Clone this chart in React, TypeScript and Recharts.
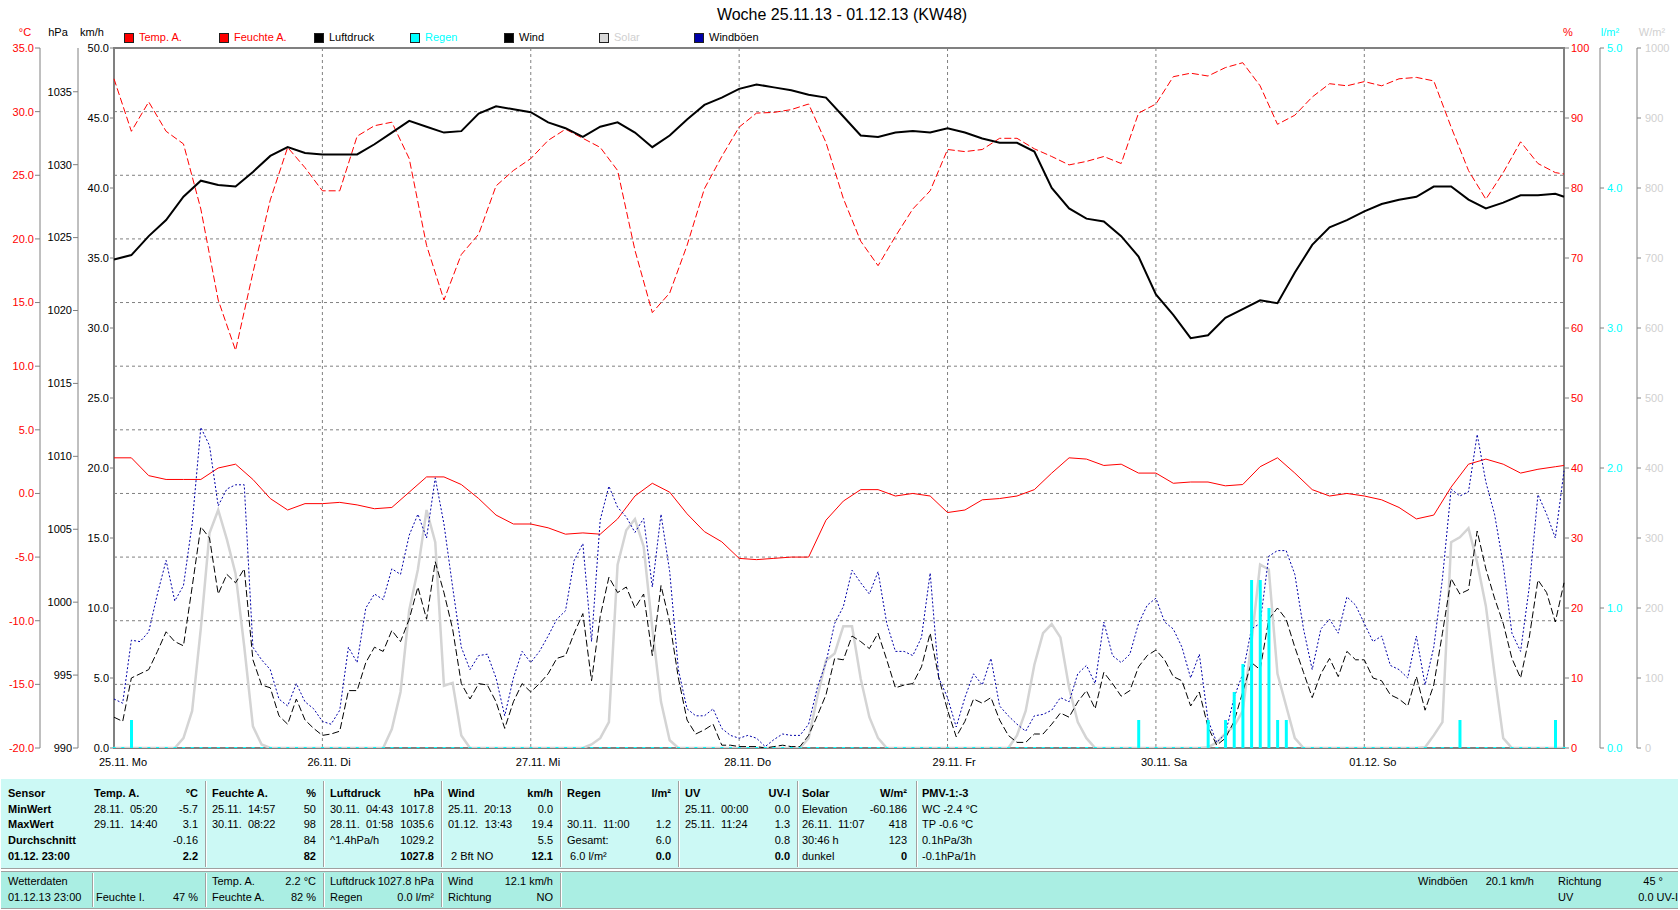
import React from 'react';
import { ComposedChart, Line, Bar, XAxis, YAxis, CartesianGrid, ReferenceArea } from 'recharts';

// ---- time axis: 25.11.13 00:00 … 01.12.13 23:00, one row per hour ----
const DAY_LABELS = ['25.11. Mo', '26.11. Di', '27.11. Mi', '28.11. Do', '29.11. Fr', '30.11. Sa', '01.12. So'];
const DAY_TICKS = [0, 24, 48, 72, 96, 120, 144];

// ---- hourly readings, one inner array per day (24 values) ----
const WIND_KMH = [
  [2.2, 1.9, 5.0, 5.3, 5.6, 6.9, 8.3, 7.6, 7.3, 11.5, 15.8, 15.0, 11.0, 12.4, 11.8, 12.8, 6.3, 4.5, 4.3, 2.3, 1.7, 3.5, 2.0, 1.4],
  [0.9, 1.0, 1.2, 4.1, 4.1, 6.1, 7.2, 6.9, 8.4, 7.6, 9.2, 11.5, 9.2, 13.3, 11.1, 8.5, 4.6, 3.5, 4.6, 4.5, 3.3, 1.4, 3.3, 4.6],
  [4.0, 4.6, 5.3, 6.4, 6.6, 8.2, 9.6, 4.8, 9.4, 12.2, 11.1, 11.5, 10.0, 11.0, 6.6, 11.6, 9.0, 5.0, 2.0, 1.0, 1.3, 1.7, 0.2, 0.2],
  [0.1, 0.1, 0.1, 0.0, 0.1, 0.2, 0.1, 0.1, 0.9, 2.3, 3.8, 6.4, 6.3, 8.0, 7.6, 7.1, 8.2, 6.3, 4.3, 4.5, 4.6, 5.8, 8.2, 5.0],
  [2.7, 0.8, 1.9, 3.5, 3.2, 3.6, 2.0, 0.9, 0.4, 0.4, 1.0, 1.0, 1.7, 2.5, 2.2, 3.3, 4.1, 2.8, 5.4, 4.6, 3.7, 4.1, 5.8, 6.6],
  [7.0, 6.3, 5.1, 4.8, 3.0, 4.0, 1.5, 0.2, 0.7, 1.9, 4.0, 6.1, 5.6, 9.2, 10.0, 9.2, 7.2, 5.4, 3.6, 5.3, 6.4, 5.1, 6.9, 6.3],
  [6.3, 5.0, 4.8, 3.8, 3.5, 3.0, 5.1, 2.7, 4.5, 8.2, 12.1, 11.0, 11.3, 15.5, 12.8, 10.7, 8.9, 6.4, 5.0, 7.9, 12.0, 11.1, 9.0, 11.8],
];

const GUST_KMH = [
  [3.5, 3.2, 7.7, 7.6, 8.3, 11.0, 13.4, 10.5, 11.6, 16.0, 22.9, 21.6, 17.3, 18.5, 18.8, 18.8, 7.2, 6.3, 5.6, 3.5, 3.0, 4.6, 3.3, 2.8],
  [1.9, 1.7, 2.7, 7.2, 6.1, 10.0, 11.0, 10.6, 12.8, 12.4, 15.2, 16.7, 15.0, 19.3, 16.0, 11.5, 7.2, 5.6, 6.6, 6.7, 5.0, 2.3, 5.0, 6.9],
  [6.1, 6.9, 8.0, 9.2, 9.8, 13.4, 14.6, 7.6, 16.3, 18.7, 17.2, 16.5, 15.4, 16.4, 11.5, 16.7, 12.6, 5.6, 2.8, 2.3, 2.3, 2.8, 1.4, 0.9],
  [0.7, 0.9, 0.7, 0.1, 0.6, 1.0, 0.9, 0.9, 1.7, 4.3, 6.1, 8.9, 10.1, 12.7, 11.8, 11.0, 12.6, 8.9, 6.9, 6.9, 6.6, 7.9, 12.5, 5.0],
  [3.6, 1.5, 3.6, 5.3, 4.5, 6.4, 3.0, 2.3, 1.7, 1.2, 2.3, 2.4, 2.7, 3.6, 3.3, 5.3, 5.9, 4.6, 9.0, 6.6, 6.1, 6.7, 8.9, 10.2],
  [10.7, 9.0, 8.5, 7.2, 5.0, 6.7, 2.0, 0.4, 1.0, 3.6, 5.3, 8.5, 8.9, 13.7, 14.1, 14.1, 12.4, 8.5, 5.6, 8.5, 9.2, 8.2, 10.8, 10.2],
  [8.9, 7.6, 8.0, 5.9, 5.6, 5.0, 8.0, 4.5, 7.2, 12.1, 18.5, 18.0, 18.3, 22.4, 19.0, 16.7, 13.1, 8.2, 6.9, 11.5, 18.1, 16.7, 15.0, 19.8],
];

const SOLAR_WM2 = [
  [0, 0, 0, 0, 0, 0, 0, 0, 14, 53, 171, 307, 340, 298, 249, 145, 31, 5, 0, 0, 0, 0, 0, 0],
  [0, 0, 0, 0, 0, 0, 0, 0, 27, 80, 197, 255, 340, 294, 89, 93, 18, 0, 0, 0, 0, 0, 0, 0],
  [0, 0, 0, 0, 0, 0, 0, 5, 14, 37, 262, 311, 327, 288, 171, 66, 11, 0, 0, 0, 0, 0, 0, 0],
  [0, 0, 0, 0, 0, 0, 0, 0, 14, 73, 125, 135, 174, 174, 99, 44, 14, 0, 0, 0, 0, 0, 0, 0],
  [0, 0, 0, 0, 0, 0, 0, 0, 18, 53, 119, 164, 177, 158, 86, 37, 14, 0, 0, 0, 0, 0, 0, 0],
  [0, 0, 0, 0, 0, 0, 1, 8, 21, 31, 53, 151, 262, 255, 106, 60, 14, 0, 0, 0, 0, 0, 0, 0],
  [0, 0, 0, 0, 0, 0, 0, 1, 18, 37, 294, 301, 314, 265, 203, 106, 14, 0, 0, 0, 0, 0, 0, 0],
];

const RAIN_LM2 = [
  [0, 0, 0.2, 0, 0, 0, 0, 0, 0, 0, 0, 0, 0, 0, 0, 0, 0, 0, 0, 0, 0, 0, 0, 0],
  [0, 0, 0, 0, 0, 0, 0, 0, 0, 0, 0, 0, 0, 0, 0, 0, 0, 0, 0, 0, 0, 0, 0, 0],
  [0, 0, 0, 0, 0, 0, 0, 0, 0, 0, 0, 0, 0, 0, 0, 0, 0, 0, 0, 0, 0, 0, 0, 0],
  [0, 0, 0, 0, 0, 0, 0, 0, 0, 0, 0, 0, 0, 0, 0, 0, 0, 0, 0, 0, 0, 0, 0, 0],
  [0, 0, 0, 0, 0, 0, 0, 0, 0, 0, 0, 0, 0, 0, 0, 0, 0, 0, 0, 0, 0, 0, 0.2, 0],
  [0, 0, 0, 0, 0, 0, 0.2, 0, 0.2, 0.4, 0.6, 1.2, 1.2, 1.0, 0.2, 0.2, 0, 0, 0, 0, 0, 0, 0, 0],
  [0, 0, 0, 0, 0, 0, 0, 0, 0, 0, 0, 0.2, 0, 0, 0, 0, 0, 0, 0, 0, 0, 0, 0.2, 0],
];

// ---- two-hourly readings (00:00, 02:00 … 22:00), one inner array per day ----
const TEMP_C = [
  [2.8, 2.8, 1.4, 1.1, 1.1, 1.1, 2.0, 2.3, 1.1, -0.4, -1.3, -0.8],
  [-0.8, -0.7, -0.9, -1.2, -1.1, 0.1, 1.3, 1.3, 0.7, -0.4, -1.7, -2.4],
  [-2.4, -2.7, -3.2, -3.1, -3.2, -2.0, -0.2, 0.8, 0.1, -1.6, -3.0, -3.8],
  [-5.1, -5.2, -5.1, -5.0, -5.0, -2.1, -0.6, 0.3, 0.3, -0.2, 0.0, -0.2],
  [-1.5, -1.3, -0.5, -0.4, -0.2, 0.3, 1.6, 2.8, 2.7, 2.2, 2.3, 1.6],
  [1.6, 0.8, 0.9, 0.9, 0.6, 0.7, 2.1, 2.8, 1.6, 0.3, -0.2, 0.0],
  [-0.2, -0.5, -1.1, -2.0, -1.7, 0.5, 2.3, 2.7, 2.3, 1.6, 1.9, 2.1],
];

const HUMIDITY_PCT = [
  [95.6, 88.1, 92.3, 88.1, 86.3, 77.0, 64.0, 56.8, 67.9, 78.3, 85.8, 82.9],
  [79.6, 79.6, 87.4, 88.9, 89.4, 84.2, 71.8, 64.0, 70.5, 73.4, 80.3, 82.5],
  [84.2, 86.8, 88.4, 87.1, 85.8, 82.5, 71.1, 62.2, 65.0, 71.8, 79.9, 84.5],
  [88.7, 90.7, 90.8, 91.2, 92.0, 86.5, 78.5, 72.4, 68.9, 73.1, 77.0, 79.6],
  [85.5, 85.2, 85.5, 87.1, 87.1, 85.6, 84.5, 83.3, 83.8, 84.5, 83.5, 90.7],
  [92.0, 95.9, 96.4, 96.0, 97.2, 97.9, 94.6, 89.1, 90.4, 93.0, 94.9, 94.6],
  [95.2, 94.6, 95.6, 95.8, 95.3, 88.7, 82.5, 78.4, 82.2, 86.6, 83.5, 82.2],
];

const PRESSURE_HPA = [
  [1023.5, 1023.8, 1025.1, 1026.2, 1027.8, 1028.9, 1028.6, 1028.5, 1029.5, 1030.6, 1031.2, 1030.8],
  [1030.7, 1030.7, 1030.7, 1031.4, 1032.2, 1033.0, 1032.6, 1032.2, 1032.3, 1033.5, 1034.0, 1033.8],
  [1033.6, 1032.9, 1032.5, 1031.9, 1032.6, 1032.9, 1032.2, 1031.2, 1032.0, 1033.1, 1034.1, 1034.6],
  [1035.2, 1035.5, 1035.3, 1035.1, 1034.8, 1034.6, 1033.3, 1032.0, 1031.9, 1032.2, 1032.3, 1032.2],
  [1032.5, 1032.2, 1031.8, 1031.5, 1031.5, 1030.9, 1028.4, 1027.0, 1026.3, 1026.1, 1025.1, 1023.7],
  [1021.1, 1019.7, 1018.1, 1018.3, 1019.5, 1020.1, 1020.7, 1020.5, 1022.6, 1024.5, 1025.7, 1026.2],
  [1026.8, 1027.3, 1027.6, 1027.8, 1028.5, 1028.5, 1027.6, 1027.0, 1027.4, 1027.9, 1027.9, 1028.0],
];

// latest reading, 01.12. 23:00
const CURRENT_TEMP = 2.2;
const CURRENT_HUMIDITY = 82;
const CURRENT_PRESSURE = 1027.8;

// ---- axis ticks ----
const TEMP_TICKS = [-20, -15, -10, -5, 0, 5, 10, 15, 20, 25, 30, 35];
const HPA_TICKS = [990, 995, 1000, 1005, 1010, 1015, 1020, 1025, 1030, 1035];
const KMH_TICKS = [0, 5, 10, 15, 20, 25, 30, 35, 40, 45, 50];
const HUM_TICKS = [0, 10, 20, 30, 40, 50, 60, 70, 80, 90, 100];
const RAIN_TICKS = [0, 1, 2, 3, 4, 5];
const SOLAR_TICKS = [0, 100, 200, 300, 400, 500, 600, 700, 800, 900, 1000];

const LAST_HOUR = 167;

// one row per hour; two-hourly series only on even hours (plus the final reading)
const ROWS = Array.from({ length: LAST_HOUR + 1 }, (_, h) => {
  const d = Math.floor(h / 24);
  const hr = h % 24;
  const even = hr % 2 === 0;
  let temp: number | null = even ? TEMP_C[d][hr / 2] : null;
  let hum: number | null = even ? HUMIDITY_PCT[d][hr / 2] : null;
  let pres: number | null = even ? PRESSURE_HPA[d][hr / 2] : null;
  if (h === LAST_HOUR) {
    temp = CURRENT_TEMP;
    hum = CURRENT_HUMIDITY;
    pres = CURRENT_PRESSURE;
  }
  return {
    h,
    wind: WIND_KMH[d][hr],
    gust: GUST_KMH[d][hr],
    solar: SOLAR_WM2[d][hr],
    rain: RAIN_LM2[d][hr],
    temp,
    hum,
    pres,
  };
});

// axis ids: stacked outward from the plot in this order on each side
const AX_KMH = 'l1_kmh';
const AX_HPA = 'l2_hpa';
const AX_TEMP = 'l3_temp';
const AX_HUM = 'r1_hum';
const AX_RAIN = 'r2_rain';
const AX_SOLAR = 'r3_solar';

const GRID = '#808080';
const RED = '#FF0000';
const CYAN = '#00FFFF';
const SOLAR_GRAY = '#D4D4D4';
const GUST_BLUE = '#0000A8';

function DayTick(props: any) {
  const { x, y, payload } = props;
  const i = DAY_TICKS.indexOf(payload.value);
  return (
    <text x={x - 15} y={y + 18} fontSize={11} fill="#000">
      {DAY_LABELS[i]}
    </text>
  );
}

const LEGEND = [
  { label: 'Temp. A.', box: RED, text: RED, x: 124 },
  { label: 'Feuchte A.', box: RED, text: RED, x: 219 },
  { label: 'Luftdruck', box: '#000', text: '#000', x: 314 },
  { label: 'Regen', box: CYAN, text: CYAN, x: 410 },
  { label: 'Wind', box: '#000', text: '#000', x: 504 },
  { label: 'Solar', box: '#D8D8D8', text: '#D0D0D0', x: 599 },
  { label: 'Windböen', box: GUST_BLUE, text: '#000', x: 694 },
];

const UNITS = [
  { label: '°C', color: RED, cx: 25 },
  { label: 'hPa', color: '#000', cx: 58 },
  { label: 'km/h', color: '#000', cx: 92 },
  { label: '%', color: RED, cx: 1568 },
  { label: 'l/m²', color: CYAN, cx: 1610 },
  { label: 'W/m²', color: '#D0D0D0', cx: 1652 },
];

// ---- summary table ----
const ROW_LABELS = ['Sensor', 'MinWert', 'MaxWert', 'Durchschnitt', '01.12. 23:00'];
const SUMMARY = [
  { name: 'Temp. A.', unit: '°C', rows: [['28.11.  05:20', '-5.7'], ['29.11.  14:40', '3.1'], ['', '-0.16'], ['', '2.2']] },
  { name: 'Feuchte A.', unit: '%', rows: [['25.11.  14:57', '50'], ['30.11.  08:22', '98'], ['', '84'], ['', '82']] },
  { name: 'Luftdruck', unit: 'hPa', rows: [['30.11.  04:43', '1017.8'], ['28.11.  01:58', '1035.6'], ['^1.4hPa/h', '1029.2'], ['', '1027.8']] },
  { name: 'Wind', unit: 'km/h', rows: [['25.11.  20:13', '0.0'], ['01.12.  13:43', '19.4'], ['', '5.5'], [' 2 Bft NO', '12.1']] },
  { name: 'Regen', unit: 'l/m²', rows: [['', ''], ['30.11.  11:00', '1.2'], ['Gesamt:', '6.0'], [' 6.0 l/m²', '0.0']] },
  { name: 'UV', unit: 'UV-I', rows: [['25.11.  00:00', '0.0'], ['25.11.  11:24', '1.3'], ['', '0.8'], ['', '0.0']] },
  { name: 'Solar', unit: 'W/m²', rows: [['Elevation', '-60.186'], ['26.11.  11:07', '418'], ['30:46 h', '123'], ['dunkel', '0']] },
];
const PMV = { name: 'PMV-1:-3', rows: ['WC -2.4 °C', 'TP -0.6 °C', '0.1hPa/3h', '-0.1hPa/1h'] };
const COL_LEFT = [94, 212, 330, 448, 567, 685, 802];
const COL_RIGHT = [198, 316, 434, 553, 671, 790, 907];
const PMV_LEFT = 922;
const ROW_Y = [793, 809, 824, 840, 856];
const TOP_DIVIDERS = [205, 323, 441, 560, 678, 797, 916];
const BOTTOM_DIVIDERS = [92, 205, 323, 441, 560];
const STATUS_Y = [881, 897];

const W = 1680;

function T(props: { x: number; y: number; text: string; right?: boolean; bold?: boolean; color?: string }) {
  const { x, y, text, right, bold, color } = props;
  const style: React.CSSProperties = {
    position: 'absolute',
    top: y - 7,
    fontSize: 11,
    lineHeight: '14px',
    whiteSpace: 'pre',
    fontWeight: bold ? 'bold' : 'normal',
    color: color || '#000',
  };
  if (right) style.right = W - x;
  else style.left = x;
  return <span style={style}>{text}</span>;
}

function Divider({ x, top, height }: { x: number; top: number; height: number }) {
  return (
    <>
      <div style={{ position: 'absolute', left: x, top, width: 1, height, background: '#A0A0A0' }} />
      <div style={{ position: 'absolute', left: x + 1, top, width: 1, height, background: '#FFFFFF' }} />
    </>
  );
}

export default function App() {
  return (
    <div
      style={{
        position: 'absolute',
        left: 0,
        top: 0,
        width: 1680,
        height: 910,
        background: '#fff',
        overflow: 'hidden',
        fontFamily: '"Liberation Sans", Arial, sans-serif',
      }}
    >
      <div style={{ position: 'absolute', left: 0, top: 0 }}>
        <ComposedChart width={1680} height={778} data={ROWS} margin={{ top: 48, right: 0, bottom: 0, left: 0 }}>
          <XAxis
            dataKey="h"
            type="number"
            domain={[0, LAST_HOUR]}
            ticks={DAY_TICKS}
            interval={0}
            height={30}
            axisLine={false}
            tickLine={false}
            tickSize={0}
            tickMargin={0}
            tick={<DayTick />}
          />
          <YAxis
            yAxisId={AX_KMH}
            orientation="left"
            width={36}
            domain={[0, 50]}
            ticks={KMH_TICKS}
            interval={0}
            allowDataOverflow
            axisLine={false}
            tickLine={{ stroke: GRID }}
            tickSize={4}
            tickMargin={1}
            tick={{ fill: '#000', fontSize: 11 }}
            tickFormatter={(v: number) => v.toFixed(1)}
          />
          <YAxis
            yAxisId={AX_HPA}
            orientation="left"
            width={38}
            domain={[990, 1038]}
            ticks={HPA_TICKS}
            interval={0}
            allowDataOverflow
            axisLine={{ stroke: GRID }}
            tickLine={{ stroke: GRID }}
            tickSize={5}
            tickMargin={1}
            tick={{ fill: '#000', fontSize: 11 }}
          />
          <YAxis
            yAxisId={AX_TEMP}
            orientation="left"
            width={40}
            domain={[-20, 35]}
            ticks={TEMP_TICKS}
            interval={0}
            allowDataOverflow
            axisLine={{ stroke: GRID }}
            tickLine={{ stroke: GRID }}
            tickSize={5}
            tickMargin={1}
            tick={{ fill: RED, fontSize: 11 }}
            tickFormatter={(v: number) => v.toFixed(1)}
          />
          <YAxis
            yAxisId={AX_HUM}
            orientation="right"
            width={36}
            domain={[0, 100]}
            ticks={HUM_TICKS}
            interval={0}
            allowDataOverflow
            axisLine={false}
            tickLine={{ stroke: GRID }}
            tickSize={5}
            tickMargin={2}
            tick={{ fill: RED, fontSize: 11 }}
          />
          <YAxis
            yAxisId={AX_RAIN}
            orientation="right"
            width={37}
            domain={[0, 5]}
            ticks={RAIN_TICKS}
            interval={0}
            allowDataOverflow
            axisLine={{ stroke: GRID }}
            tickLine={{ stroke: GRID }}
            tickSize={4}
            tickMargin={3}
            tick={{ fill: CYAN, fontSize: 11 }}
            tickFormatter={(v: number) => v.toFixed(1)}
          />
          <YAxis
            yAxisId={AX_SOLAR}
            orientation="right"
            width={43}
            domain={[0, 1000]}
            ticks={SOLAR_TICKS}
            interval={0}
            allowDataOverflow
            axisLine={{ stroke: GRID }}
            tickLine={{ stroke: GRID }}
            tickSize={4}
            tickMargin={4}
            tick={{ fill: '#D0D0D0', fontSize: 11 }}
          />

          <CartesianGrid yAxisId={AX_TEMP} stroke={GRID} strokeDasharray="3 3" />

          <ReferenceArea
            yAxisId={AX_KMH}
            x1={0}
            x2={LAST_HOUR}
            y1={0}
            y2={50}
            fill="none"
            stroke={GRID}
            strokeWidth={2}
            ifOverflow="visible"
          />

          <Line
            yAxisId={AX_SOLAR}
            dataKey="solar"
            stroke={SOLAR_GRAY}
            strokeWidth={2.5}
            dot={false}
            activeDot={false}
            isAnimationActive={false}
          />
          <Line
            yAxisId={AX_TEMP}
            dataKey="temp"
            stroke={RED}
            strokeWidth={1}
            dot={false}
            activeDot={false}
            connectNulls
            isAnimationActive={false}
          />
          <Line
            yAxisId={AX_HUM}
            dataKey="hum"
            stroke={RED}
            strokeWidth={1}
            strokeDasharray="7 3"
            dot={false}
            activeDot={false}
            connectNulls
            isAnimationActive={false}
          />
          <Line
            yAxisId={AX_HPA}
            dataKey="pres"
            stroke="#000"
            strokeWidth={2}
            dot={false}
            activeDot={false}
            connectNulls
            isAnimationActive={false}
          />
          <Line
            yAxisId={AX_KMH}
            dataKey="wind"
            stroke="#000"
            strokeWidth={1}
            strokeDasharray="7 3"
            dot={false}
            activeDot={false}
            isAnimationActive={false}
          />
          <Line
            yAxisId={AX_KMH}
            dataKey="gust"
            stroke={GUST_BLUE}
            strokeWidth={1}
            strokeDasharray="2 2"
            dot={false}
            activeDot={false}
            isAnimationActive={false}
          />
          <Bar
            yAxisId={AX_RAIN}
            dataKey="rain"
            fill={CYAN}
            barSize={3}
            minPointSize={1}
            zIndex={1000}
            isAnimationActive={false}
          />
        </ComposedChart>
      </div>

      {/* title */}
      <div
        style={{
          position: 'absolute',
          left: 842,
          top: 6,
          transform: 'translateX(-50%)',
          fontSize: 16,
          lineHeight: '18px',
          whiteSpace: 'nowrap',
          color: '#000',
        }}
      >
        Woche 25.11.13 - 01.12.13 (KW48)
      </div>

      {/* legend */}
      {LEGEND.map((it) => (
        <React.Fragment key={it.label}>
          <div
            style={{
              position: 'absolute',
              left: it.x,
              top: 33,
              width: 8,
              height: 8,
              background: it.box,
              border: '1px solid #202020',
            }}
          />
          <span
            style={{
              position: 'absolute',
              left: it.x + 15,
              top: 30,
              fontSize: 11,
              lineHeight: '14px',
              whiteSpace: 'nowrap',
              color: it.text,
            }}
          >
            {it.label}
          </span>
        </React.Fragment>
      ))}

      {/* axis units */}
      {UNITS.map((u) => (
        <span
          key={u.label}
          style={{
            position: 'absolute',
            left: u.cx,
            top: 25,
            transform: 'translateX(-50%)',
            fontSize: 11,
            lineHeight: '14px',
            whiteSpace: 'nowrap',
            color: u.color,
          }}
        >
          {u.label}
        </span>
      ))}

      {/* summary panel */}
      <div
        style={{
          position: 'absolute',
          left: 1,
          top: 779,
          width: 1677,
          height: 89,
          background: '#CCF9F5',
          borderBottom: '1px solid #A0A0A0',
        }}
      />
      {TOP_DIVIDERS.map((x) => (
        <Divider key={'t' + x} x={x} top={781} height={86} />
      ))}
      {ROW_LABELS.map((lab, i) => (
        <T key={lab} x={8} y={ROW_Y[i]} text={lab} bold />
      ))}
      {SUMMARY.map((col, c) => (
        <React.Fragment key={col.name}>
          <T x={COL_LEFT[c]} y={ROW_Y[0]} text={col.name} bold />
          <T x={COL_RIGHT[c]} y={ROW_Y[0]} text={col.unit} bold right />
          {col.rows.map((r, i) => (
            <React.Fragment key={i}>
              {r[0] ? <T x={COL_LEFT[c]} y={ROW_Y[i + 1]} text={r[0]} /> : null}
              {r[1] ? <T x={COL_RIGHT[c]} y={ROW_Y[i + 1]} text={r[1]} right bold={i === 3} /> : null}
            </React.Fragment>
          ))}
        </React.Fragment>
      ))}
      <T x={PMV_LEFT} y={ROW_Y[0]} text={PMV.name} bold />
      {PMV.rows.map((t, i) => (
        <T key={t} x={PMV_LEFT} y={ROW_Y[i + 1]} text={t} />
      ))}

      {/* status bar */}
      <div
        style={{
          position: 'absolute',
          left: 1,
          top: 871,
          width: 1677,
          height: 36,
          background: '#AAEEE3',
          borderTop: '1px solid #A0A0A0',
          borderBottom: '1px solid #A0A0A0',
        }}
      />
      {BOTTOM_DIVIDERS.map((x) => (
        <Divider key={'b' + x} x={x} top={873} height={34} />
      ))}
      <T x={8} y={STATUS_Y[0]} text="Wetterdaten" />
      <T x={8} y={STATUS_Y[1]} text="01.12.13 23:00" />
      <T x={96} y={STATUS_Y[1]} text="Feuchte I." />
      <T x={198} y={STATUS_Y[1]} text="47 %" right />
      <T x={212} y={STATUS_Y[0]} text="Temp. A." />
      <T x={316} y={STATUS_Y[0]} text="2.2 °C" right />
      <T x={212} y={STATUS_Y[1]} text="Feuchte A." />
      <T x={316} y={STATUS_Y[1]} text="82 %" right />
      <T x={330} y={STATUS_Y[0]} text="Luftdruck" />
      <T x={434} y={STATUS_Y[0]} text="1027.8 hPa" right />
      <T x={330} y={STATUS_Y[1]} text="Regen" />
      <T x={434} y={STATUS_Y[1]} text="0.0 l/m²" right />
      <T x={448} y={STATUS_Y[0]} text="Wind" />
      <T x={553} y={STATUS_Y[0]} text="12.1 km/h" right />
      <T x={448} y={STATUS_Y[1]} text="Richtung" />
      <T x={553} y={STATUS_Y[1]} text="NO" right />
      <T x={1418} y={STATUS_Y[0]} text="Windböen" />
      <T x={1534} y={STATUS_Y[0]} text="20.1 km/h" right />
      <T x={1558} y={STATUS_Y[0]} text="Richtung" />
      <T x={1663} y={STATUS_Y[0]} text="45 °" right />
      <T x={1558} y={STATUS_Y[1]} text="UV" />
      <T x={1678} y={STATUS_Y[1]} text="0.0 UV-I" right />
    </div>
  );
}
